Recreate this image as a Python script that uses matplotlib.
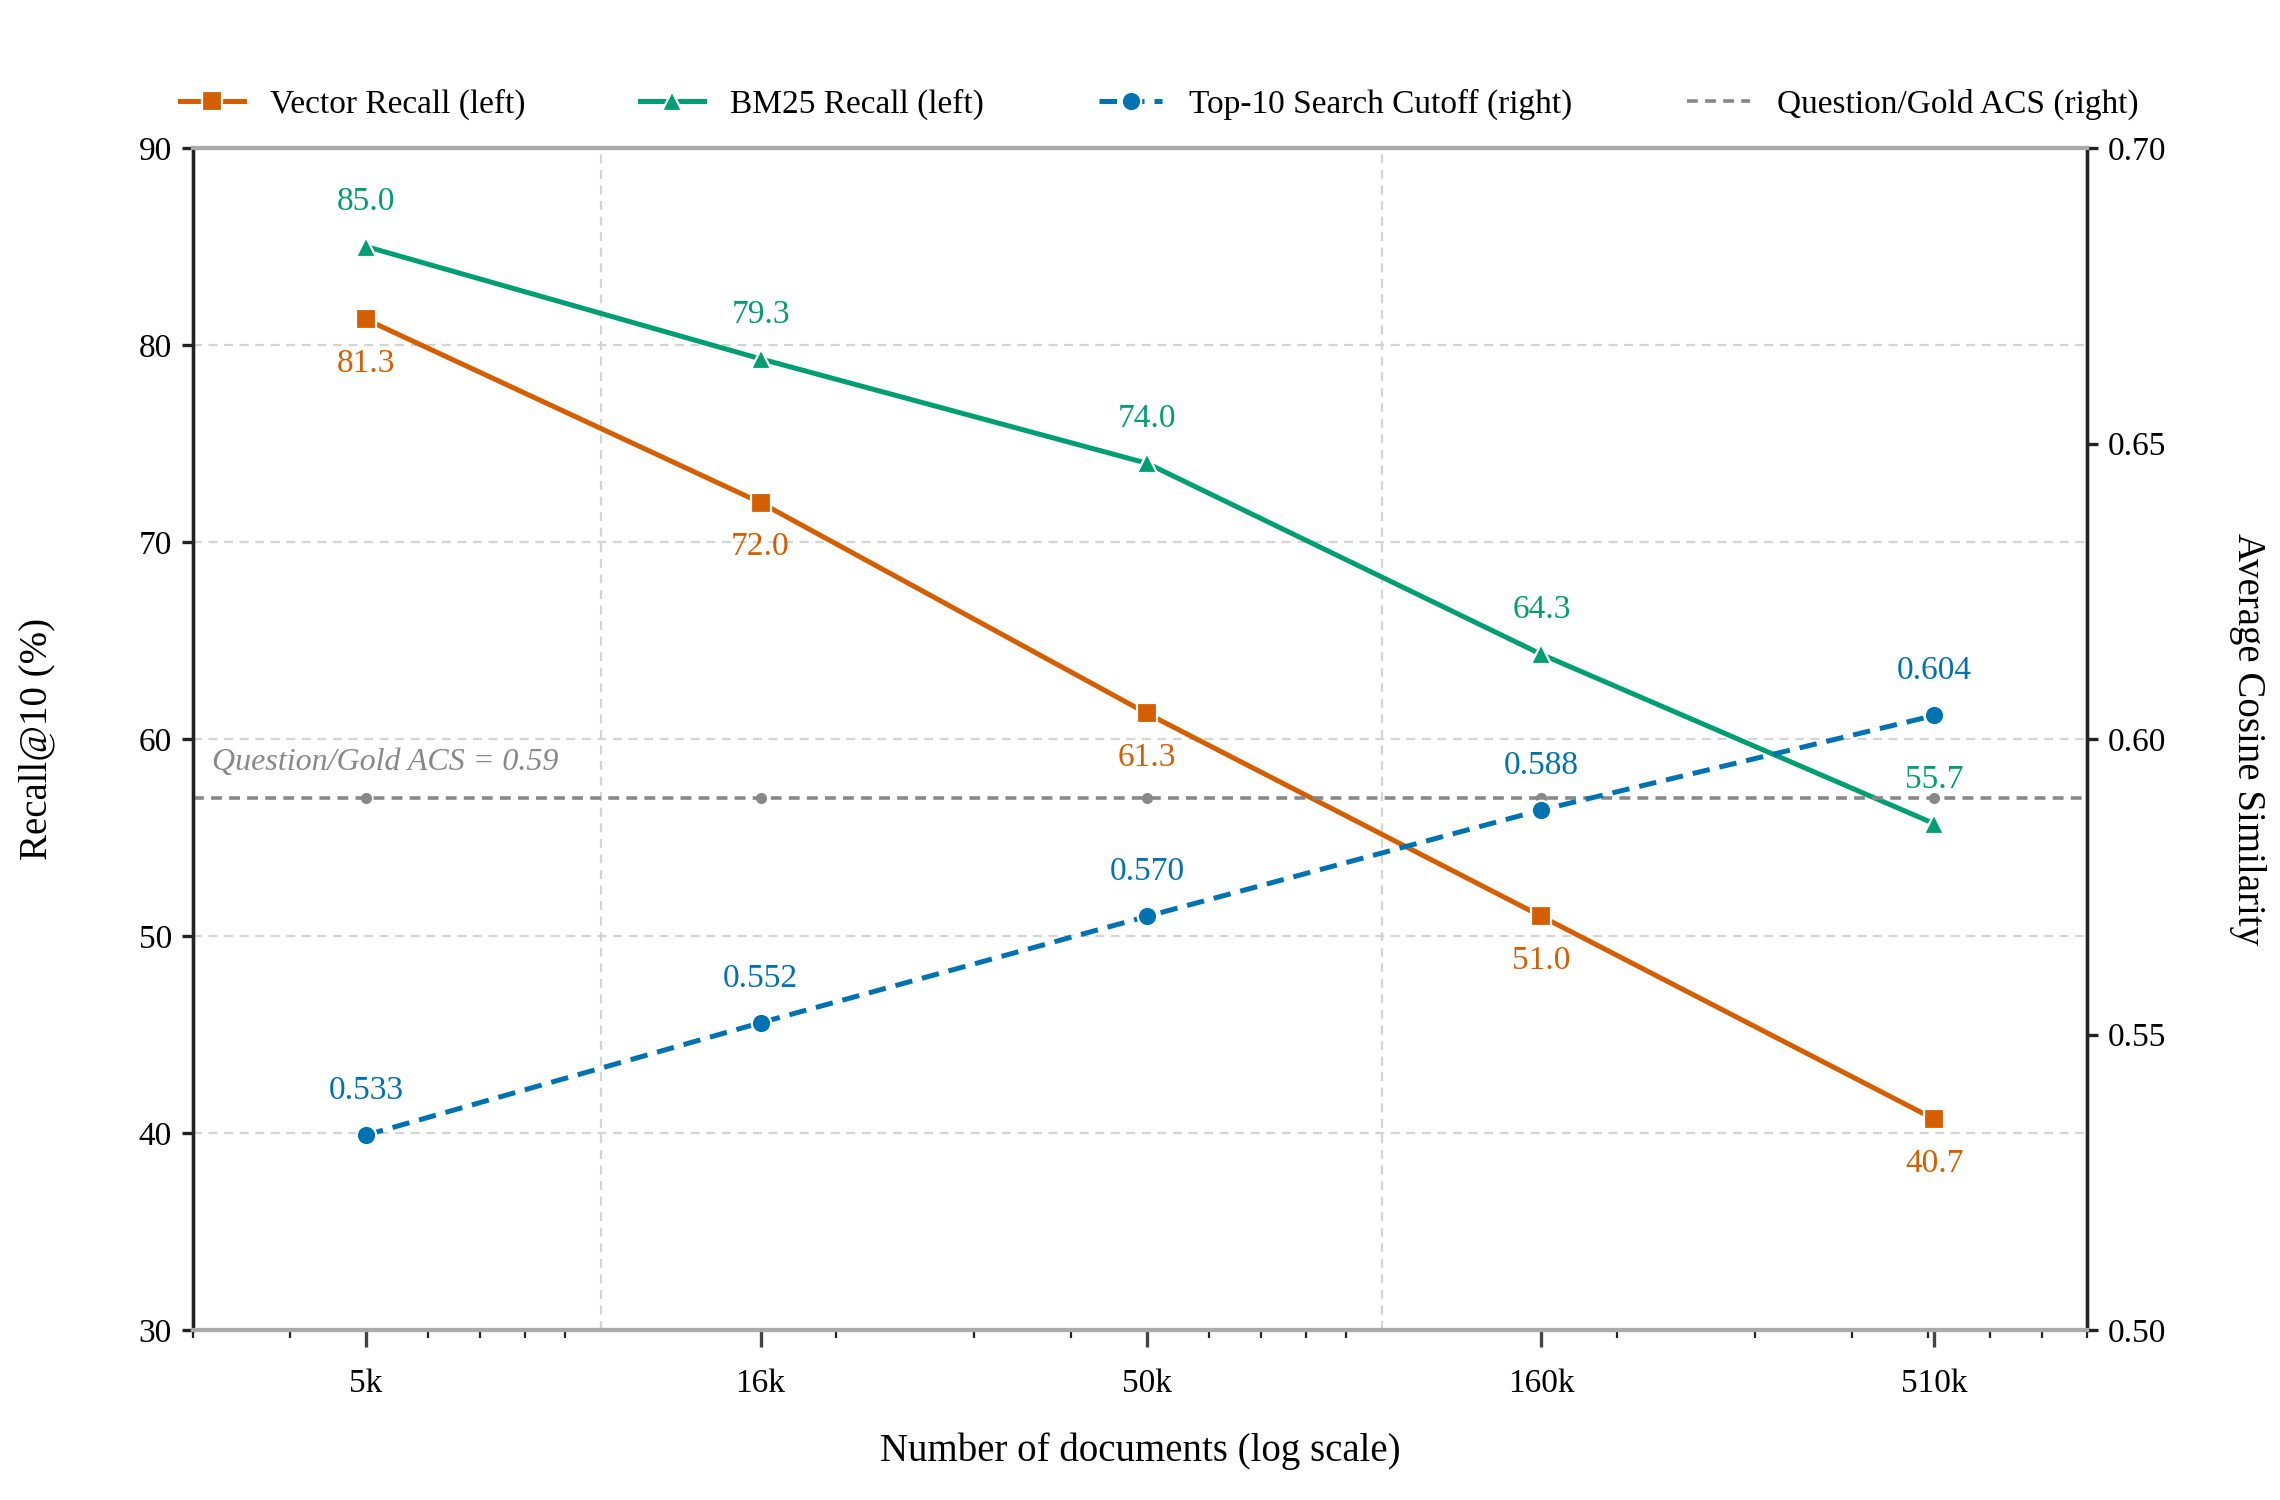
import matplotlib
matplotlib.use("Agg")
import matplotlib.pyplot as plt
from matplotlib.ticker import FixedLocator, LogLocator, NullFormatter

plt.rcParams['font.family'] = ['Liberation Serif', 'DejaVu Serif']

# data
n_docs = [5000, 16000, 50000, 160000, 510000]
x_labels = ["5k", "16k", "50k", "160k", "510k"]
vector_recall = [81.3, 72.0, 61.3, 51.0, 40.7]
bm25_recall = [85.0, 79.3, 74.0, 64.3, 55.7]
cutoff_acs = [0.533, 0.552, 0.570, 0.588, 0.604]
gold_acs = 0.59

ORANGE = "#D55E00"
GREEN = "#009E73"
BLUE = "#0072B2"
GRAY = "#888888"

fig = plt.figure(figsize=(11.4, 7.5), dpi=200)
ax = fig.add_axes([0.0846, 0.1133, 0.8308, 0.788])
ax2 = ax.twinx()

ax.set_xscale("log")
ax.set_xlim(3000, 800000)
ax.set_ylim(30, 90)
ax2.set_ylim(0.50, 0.70)

# grid
ax.set_yticks([30, 40, 50, 60, 70, 80, 90])
for y in [40, 50, 60, 70, 80]:
    ax.axhline(y, color="#d4d4d4", ls=(0, (4, 3)), lw=0.8, zorder=0)
for xv in [1e4, 1e5]:
    ax.axvline(xv, color="#d4d4d4", ls=(0, (4, 3)), lw=0.8, zorder=0)

ln_v, = ax.plot(n_docs, vector_recall, color=ORANGE, lw=1.8, marker="s", ms=7,
                mec="white", mew=0.8, label="Vector Recall (left)", zorder=4)
ln_b, = ax.plot(n_docs, bm25_recall, color=GREEN, lw=1.8, marker="^", ms=7.5,
                mec="white", mew=0.8, label="BM25 Recall (left)", zorder=4)

ln_c, = ax2.plot(n_docs, cutoff_acs, color=BLUE, lw=1.8, ls=(0, (3.5, 2)), marker="o",
                 ms=7, mec="white", mew=0.8, label="Top-10 Search Cutoff (right)", zorder=3)
ln_g = ax2.axhline(gold_acs, color=GRAY, lw=1.3, ls=(0, (3, 2)), label="Question/Gold ACS (right)", zorder=2)
ax2.plot(n_docs, [gold_acs] * len(n_docs), ls="none", marker="o", ms=3, color=GRAY, zorder=2)

ax2.text(0.01, gold_acs + 0.0035, "Question/Gold ACS = 0.59", transform=ax2.get_yaxis_transform(),
         color=GRAY, style="italic", fontsize=11.5, va="bottom", ha="left")

for xv, yv in zip(n_docs, vector_recall):
    ax.annotate(f"{yv:.1f}", (xv, yv), xytext=(0, -16), textcoords="offset points",
                ha="center", va="center", color=ORANGE, fontsize=12)
for xv, yv in zip(n_docs, bm25_recall):
    ax.annotate(f"{yv:.1f}", (xv, yv), xytext=(0, 16), textcoords="offset points",
                ha="center", va="center", color=GREEN, fontsize=12)
for xv, yv in zip(n_docs, cutoff_acs):
    ax2.annotate(f"{yv:.3f}", (xv, yv), xytext=(0, 16), textcoords="offset points",
                 ha="center", va="center", color=BLUE, fontsize=12)

# x axis ticks
ax.xaxis.set_major_locator(FixedLocator(n_docs))
ax.set_xticklabels(x_labels)
ax.xaxis.set_minor_locator(LogLocator(base=10, subs=range(2, 10)))
ax.xaxis.set_minor_formatter(NullFormatter())
ax.tick_params(axis="x", which="major", length=6, width=1.2, color="#444444", labelsize=12, pad=8)
ax.tick_params(axis="x", which="minor", length=3, width=0.8, color="#222222")
ax.tick_params(axis="y", length=4, width=1.2, color="#222222", labelsize=12)
ax2.tick_params(axis="y", length=4, width=1.2, color="#222222", labelsize=12)
ax2.set_yticks([0.50, 0.55, 0.60, 0.65, 0.70])
ax2.set_yticklabels(["0.50", "0.55", "0.60", "0.65", "0.70"])

for a in (ax, ax2):
    a.spines["top"].set_color("#aaaaaa")
    a.spines["bottom"].set_color("#aaaaaa")
    a.spines["top"].set_linewidth(1.5)
    a.spines["bottom"].set_linewidth(1.5)
    a.spines["left"].set_color("#222222")
    a.spines["right"].set_color("#222222")
    a.spines["left"].set_linewidth(1.2)
    a.spines["right"].set_linewidth(1.2)

ax.set_xlabel("Number of documents (log scale)", fontsize=14, labelpad=12)
ax.set_ylabel("Recall@10 (%)", fontsize=14, labelpad=30)
ax2.set_ylabel("Average Cosine Similarity", fontsize=14, rotation=270, labelpad=36)

fig.legend(handles=[ln_v, ln_b, ln_c, ln_g], loc="lower left", ncol=4, mode="expand",
           bbox_to_anchor=(0.066, 0.90, 0.885, 0.05), frameon=False, fontsize=12,
           handlelength=1.9, handletextpad=0.8)

fig.savefig("out.png", dpi=200)
